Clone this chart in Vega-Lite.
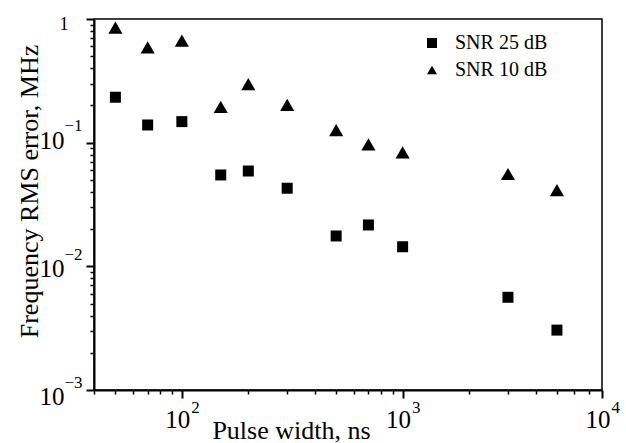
{
  "$schema": "https://vega.github.io/schema/vega-lite/v6.json",
  "width": 508,
  "height": 371,
  "autosize": {"type": "none"},
  "padding": {"left": 94, "top": 19, "right": 24, "bottom": 53},
  "background": "white",
  "config": {
    "view": {"stroke": "black", "strokeWidth": 1.5},
    "font": "Liberation Serif, Times New Roman, DejaVu Serif, serif"
  },
  "data": {
    "values": [
      {"width": 50, "error": 0.85, "series": "SNR 10 dB"},
      {"width": 70, "error": 0.59, "series": "SNR 10 dB"},
      {"width": 100, "error": 0.668, "series": "SNR 10 dB"},
      {"width": 150, "error": 0.195, "series": "SNR 10 dB"},
      {"width": 200, "error": 0.298, "series": "SNR 10 dB"},
      {"width": 300, "error": 0.202, "series": "SNR 10 dB"},
      {"width": 500, "error": 0.1265, "series": "SNR 10 dB"},
      {"width": 700, "error": 0.097, "series": "SNR 10 dB"},
      {"width": 1000, "error": 0.0836, "series": "SNR 10 dB"},
      {"width": 3000, "error": 0.0558, "series": "SNR 10 dB"},
      {"width": 5000, "error": 0.0414, "series": "SNR 10 dB"},
      {"width": 50, "error": 0.233, "series": "SNR 25 dB"},
      {"width": 70, "error": 0.139, "series": "SNR 25 dB"},
      {"width": 100, "error": 0.148, "series": "SNR 25 dB"},
      {"width": 150, "error": 0.0548, "series": "SNR 25 dB"},
      {"width": 200, "error": 0.059, "series": "SNR 25 dB"},
      {"width": 300, "error": 0.0428, "series": "SNR 25 dB"},
      {"width": 500, "error": 0.0176, "series": "SNR 25 dB"},
      {"width": 700, "error": 0.0216, "series": "SNR 25 dB"},
      {"width": 1000, "error": 0.0144, "series": "SNR 25 dB"},
      {"width": 3000, "error": 0.00562, "series": "SNR 25 dB"},
      {"width": 5000, "error": 0.00305, "series": "SNR 25 dB"}
    ]
  },
  "resolve": {"axis": {"x": "independent", "y": "independent"}},
  "layer": [
    {
      "transform": [{"filter": "datum.series == 'SNR 25 dB'"}],
      "mark": {"type": "point", "filled": true, "color": "black", "opacity": 1, "strokeWidth": 0, "size": 121},
      "encoding": {
        "x": {
          "field": "width", "type": "quantitative",
          "scale": {"type": "log", "domain": [40, 8000], "nice": false},
          "axis": {
            "orient": "bottom",
            "values": [40, 50, 60, 70, 80, 90, 200, 300, 400, 500, 600, 700, 800, 900, 2000, 3000, 4000, 5000, 6000, 7000],
            "labels": false, "grid": false, "title": null,
            "tickSize": 4, "tickWidth": 1.5, "tickColor": "black",
            "domainColor": "black", "domainWidth": 2
          }
        },
        "y": {
          "field": "error", "type": "quantitative",
          "scale": {"type": "log", "domain": [0.001, 1], "nice": false},
          "axis": {
            "orient": "left",
            "values": [0.002, 0.003, 0.004, 0.005, 0.006, 0.007, 0.008, 0.009, 0.02, 0.03, 0.04, 0.05, 0.06, 0.07, 0.08, 0.09, 0.2, 0.3, 0.4, 0.5, 0.6, 0.7, 0.8, 0.9],
            "labels": false, "grid": false, "title": null,
            "tickSize": 4, "tickWidth": 1.5, "tickColor": "black",
            "domainColor": "black", "domainWidth": 2
          }
        },
        "shape": {
          "field": "series", "type": "nominal",
          "scale": {"domain": ["SNR 25 dB", "SNR 10 dB"], "range": ["square", "triangle-up"]},
          "legend": {
            "orient": "none", "legendX": 328, "legendY": 14, "title": null,
            "padding": 0, "labelFont": "Liberation Serif, Times New Roman, DejaVu Serif, serif", "labelFontSize": 20,
            "labelColor": "black", "symbolSize": 100, "symbolFillColor": "black",
            "symbolStrokeColor": "black", "symbolStrokeWidth": 0,
            "rowPadding": 7, "labelOffset": 13
          }
        }
      }
    },
    {
      "transform": [{"filter": "datum.series == 'SNR 10 dB'"}],
      "mark": {"type": "point", "filled": true, "color": "black", "opacity": 1, "strokeWidth": 0, "size": 200},
      "encoding": {
        "x": {
          "field": "width", "type": "quantitative",
          "scale": {"type": "log", "domain": [40, 8000], "nice": false},
          "axis": {
            "orient": "bottom", "values": [100, 1000, 8000],
            "labelExpr": "'10'", "labelFont": "Liberation Serif, Times New Roman, DejaVu Serif, serif", "labelFontSize": 25,
            "labelColor": "black", "labelAlign": "center", "labelBaseline": "alphabetic", "labelPadding": 29,
            "labelOffset": -4.5, "labelFlush": false, "labelOverlap": false,
            "tickSize": 8, "tickWidth": 2, "tickColor": "black",
            "domain": false, "grid": false,
            "title": "Pulse width, ns", "titleFont": "Liberation Serif, Times New Roman, DejaVu Serif, serif",
            "titleFontSize": 26, "titleFontWeight": "normal", "titleColor": "black",
            "titleX": 197, "titleY": 48, "titleBaseline": "alphabetic", "titleAlign": "center"
          }
        },
        "y": {
          "field": "error", "type": "quantitative",
          "scale": {"type": "log", "domain": [0.001, 1], "nice": false},
          "axis": {
            "orient": "left", "values": [0.001, 0.01, 0.1, 1],
            "labelExpr": "datum.value > 0.5 ? '' : '10'",
            "labelFont": "Liberation Serif, Times New Roman, DejaVu Serif, serif",
            "labelFontSize": 25,
            "labelColor": "black", "labelAlign": "right", "labelBaseline": "middle",
            "labelPadding": 22,
            "labelOffset": {"condition": [{"test": "datum.value < 0.002", "value": 6.5}, {"test": "datum.value < 0.02", "value": 2}], "value": -2.5},
            "labelFlush": false, "labelOverlap": false,
            "tickSize": 8, "tickWidth": 2, "tickColor": "black",
            "domain": false, "grid": false,
            "title": "Frequency RMS error, MHz", "titleFont": "Liberation Serif, Times New Roman, DejaVu Serif, serif",
            "titleFontSize": 26, "titleFontWeight": "normal", "titleColor": "black",
            "titleAngle": -90, "titleX": -57, "titleY": 172, "titleBaseline": "alphabetic", "titleAlign": "center"
          }
        },
        "shape": {
          "field": "series", "type": "nominal",
          "scale": {"domain": ["SNR 25 dB", "SNR 10 dB"], "range": ["square", "triangle-up"]}
        }
      }
    },
    {
      "mark": {"type": "point", "opacity": 0},
      "encoding": {
        "x": {
          "field": "width", "type": "quantitative",
          "scale": {"type": "log", "domain": [40, 8000], "nice": false},
          "axis": {
            "orient": "bottom", "values": [100, 1000, 8000],
            "labelExpr": "datum.value == 100 ? '2' : datum.value == 1000 ? '3' : '4'",
            "labelFont": "Liberation Serif, Times New Roman, DejaVu Serif, serif", "labelFontSize": 17, "labelColor": "black",
            "labelAlign": "left", "labelBaseline": "alphabetic", "labelPadding": 22,
            "labelOffset": 9, "labelFlush": false, "labelOverlap": false,
            "ticks": false, "domain": false, "grid": false, "title": null
          }
        },
        "y": {
          "field": "error", "type": "quantitative",
          "scale": {"type": "log", "domain": [0.001, 1], "nice": false},
          "axis": {
            "orient": "left", "values": [0.001, 0.01, 0.1, 1],
            "labelExpr": "datum.value > 0.5 ? '1' : datum.value < 0.002 ? '−3' : datum.value < 0.02 ? '−2' : '−1'",
            "labelFont": "Liberation Serif, Times New Roman, DejaVu Serif, serif",
            "labelFontSize": {"condition": {"test": "datum.value > 0.5", "value": 18}, "value": 17},
            "labelColor": "black",
            "labelAlign": "left", "labelBaseline": "middle",
            "labelPadding": {"condition": {"test": "datum.value > 0.5", "value": 35}, "value": 30},
            "labelOffset": {"condition": [{"test": "datum.value > 0.5", "value": 5.5}, {"test": "datum.value < 0.002", "value": -7.5}, {"test": "datum.value < 0.02", "value": -12}], "value": -16.7},
            "labelFlush": false, "labelOverlap": false,
            "ticks": false, "domain": false, "grid": false, "title": null
          }
        }
      }
    }
  ]
}
